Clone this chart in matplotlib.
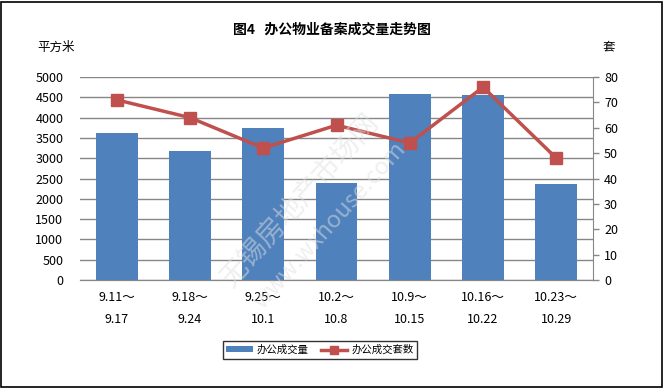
import matplotlib
matplotlib.use("Agg")
import matplotlib.pyplot as plt
import numpy as np

plt.rcParams["font.family"] = ["Noto Sans CJK SC", "DejaVu Sans"]

# data
periods = ["9.11～\n9.17", "9.18～\n9.24", "9.25～\n10.1", "10.2～\n10.8",
           "10.9～\n10.15", "10.16～\n10.22", "10.23～\n10.29"]
area = [3630, 3185, 3750, 2400, 4590, 4565, 2365]     # 平方米
units = [71, 64, 52, 61, 54, 76, 48]                  # 套

BLUE = "#4f81bd"
RED = "#c0504d"
GRID = "#868686"

fig = plt.figure(figsize=(6.64, 3.88), dpi=100)
W, H = 664, 388
ax = fig.add_axes([80 / W, 1 - 280 / H, 513 / W, 203 / H])
ax2 = ax.twinx()

x = np.arange(len(periods))
ax.bar(x, area, width=0.57, color=BLUE, zorder=2, label="办公成交量")
ax.set_xlim(-0.5, len(periods) - 0.5)
ax.set_ylim(0, 5000)
ax.set_yticks(np.arange(0, 5001, 500))
ax.yaxis.grid(True, color=GRID, linewidth=1)
ax.set_axisbelow(True)
ax.set_xticks(x)
ax.set_xticklabels(periods, fontsize=9, linespacing=1.9)
ax.tick_params(axis="x", length=0, pad=8)
ax.tick_params(axis="y", length=0, labelsize=9, pad=12)

ax2.plot(x, units, color=RED, linewidth=2.5, marker="s", markersize=9,
         zorder=3, label="办公成交套数")
ax2.set_ylim(0, 80)
ax2.set_yticks(np.arange(0, 81, 10))
ax2.tick_params(axis="y", labelsize=9, color=GRID, length=4, width=1, pad=4)

for a in (ax, ax2):
    for side in ("top", "left"):
        a.spines[side].set_visible(False)
    a.spines["bottom"].set_color(GRID)
    a.spines["right"].set_color(GRID)
ax.spines["right"].set_visible(False)

fig.text(0.5, 1 - 30 / H, "图4   办公物业备案成交量走势图", ha="center", va="center",
         fontsize=10, fontweight="bold")
fig.text(56 / W, 1 - 47 / H, "平方米", ha="center", va="center", fontsize=9)
fig.text(609 / W, 1 - 47 / H, "套", ha="center", va="center", fontsize=9)

# watermark
fig.text(300 / W, 1 - 200 / H, "无锡房地产市场网", rotation=48, ha="center", va="center",
         fontsize=20, color="#e0e0e0", alpha=0.5, zorder=5)
fig.text(330 / W, 1 - 225 / H, "www.wxhouse.com", rotation=48, ha="center", va="center",
         fontsize=17, color="#e0e0e0", alpha=0.5, zorder=5)

h1, l1 = ax.get_legend_handles_labels()
h2, l2 = ax2.get_legend_handles_labels()
leg = fig.legend(h1 + h2, l1 + l2, loc="center", bbox_to_anchor=(320 / W, 1 - 350 / H),
                 ncol=2, fontsize=7.5, frameon=True, fancybox=False, handlelength=2.5,
                 handleheight=0.5, markerscale=0.6, columnspacing=1.2, borderpad=0.35,
                 handletextpad=0.4)
leg.get_frame().set_edgecolor("black")
leg.get_frame().set_linewidth(1)

border = plt.Rectangle((1 / W, 1 / H), 1 - 3 / W, 1 - 3 / H, transform=fig.transFigure,
                       fill=False, edgecolor="black", linewidth=1.2)
fig.add_artist(border)

fig.savefig("out.png", dpi=100)
